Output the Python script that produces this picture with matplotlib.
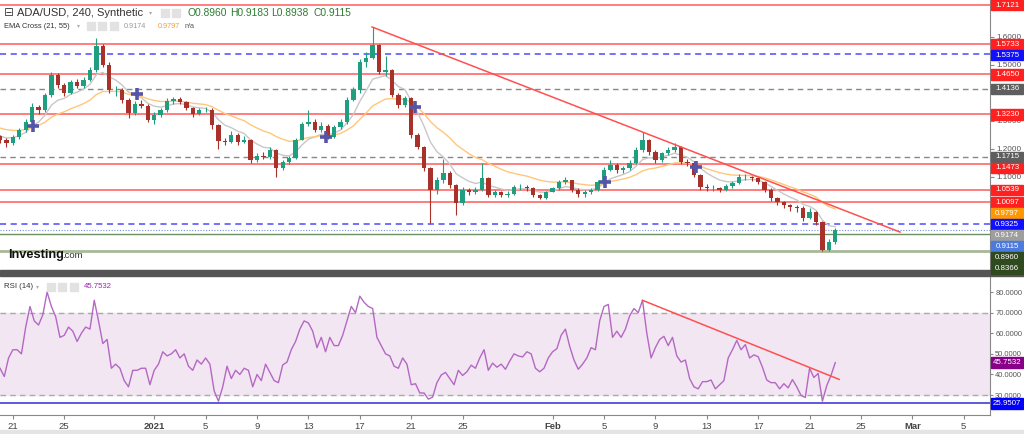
import numpy as np
import pandas as pd
import matplotlib
matplotlib.use('Agg')
import matplotlib.pyplot as plt
import matplotlib.dates as mdates
from matplotlib.patches import Rectangle

plt.rcParams['font.family'] = ['Liberation Sans', 'DejaVu Sans']

# 12h candles, starting 2020-12-20 00:00
first_open = 1.245
close = [1.232, 1.220, 1.242, 1.267, 1.296, 1.349, 1.338, 1.392, 1.463, 1.427,
         1.399, 1.438, 1.424, 1.445, 1.481, 1.566, 1.498, 1.410, 1.410, 1.374,
         1.328, 1.360, 1.353, 1.303, 1.321, 1.338, 1.370, 1.377, 1.367, 1.345,
         1.324, 1.338, 1.338, 1.285, 1.228, 1.225, 1.249, 1.225, 1.232, 1.160,
         1.175, 1.171, 1.196, 1.132, 1.153, 1.167, 1.232, 1.289, 1.296, 1.267,
         1.281, 1.242, 1.278, 1.296, 1.374, 1.410, 1.509, 1.523, 1.570, 1.474,
         1.481, 1.392, 1.356, 1.381, 1.249, 1.207, 1.132, 1.054, 1.089, 1.114,
         1.071, 1.007, 1.054, 1.047, 1.054, 1.096, 1.036, 1.047, 1.036, 1.039,
         1.064, 1.064, 1.061, 1.036, 1.025, 1.047, 1.061, 1.082, 1.089, 1.054,
         1.039, 1.047, 1.054, 1.082, 1.125, 1.143, 1.125, 1.132, 1.150, 1.196,
         1.232, 1.189, 1.160, 1.185, 1.196, 1.207, 1.153, 1.150, 1.107, 1.064,
         1.061, 1.061, 1.054, 1.068, 1.078, 1.100, 1.100, 1.096, 1.082, 1.054,
         1.025, 1.011, 1.000, 0.993, 0.990, 0.954, 0.975, 0.940, 0.840, 0.869,
         0.9115]
high = [1.250, 1.240, 1.250, 1.275, 1.305, 1.365, 1.355, 1.400, 1.475, 1.470,
        1.435, 1.445, 1.450, 1.455, 1.490, 1.595, 1.575, 1.510, 1.425, 1.415,
        1.380, 1.370, 1.375, 1.360, 1.330, 1.345, 1.380, 1.385, 1.385, 1.370,
        1.350, 1.345, 1.350, 1.345, 1.290, 1.240, 1.265, 1.255, 1.245, 1.235,
        1.185, 1.190, 1.205, 1.200, 1.160, 1.175, 1.240, 1.295, 1.340, 1.305,
        1.295, 1.290, 1.285, 1.305, 1.385, 1.420, 1.520, 1.545, 1.635, 1.575,
        1.530, 1.485, 1.400, 1.390, 1.385, 1.255, 1.210, 1.135, 1.100, 1.165,
        1.120, 1.075, 1.065, 1.060, 1.065, 1.150, 1.100, 1.055, 1.050, 1.050,
        1.070, 1.075, 1.070, 1.065, 1.040, 1.050, 1.065, 1.090, 1.100, 1.090,
        1.060, 1.055, 1.060, 1.090, 1.135, 1.160, 1.150, 1.140, 1.160, 1.205,
        1.260, 1.235, 1.195, 1.190, 1.205, 1.220, 1.210, 1.165, 1.155, 1.110,
        1.075, 1.070, 1.065, 1.075, 1.085, 1.110, 1.110, 1.105, 1.100, 1.085,
        1.060, 1.030, 1.015, 1.005, 1.000, 0.995, 0.990, 0.980, 0.945, 0.880,
        0.9183]
low = [1.220, 1.205, 1.215, 1.235, 1.260, 1.290, 1.325, 1.330, 1.385, 1.415,
       1.390, 1.395, 1.415, 1.418, 1.440, 1.475, 1.490, 1.400, 1.390, 1.365,
       1.310, 1.320, 1.345, 1.295, 1.290, 1.315, 1.330, 1.360, 1.360, 1.340,
       1.315, 1.320, 1.330, 1.270, 1.200, 1.215, 1.220, 1.215, 1.220, 1.150,
       1.155, 1.165, 1.165, 1.100, 1.125, 1.145, 1.165, 1.230, 1.280, 1.260,
       1.260, 1.235, 1.240, 1.270, 1.290, 1.370, 1.400, 1.490, 1.520, 1.465,
       1.460, 1.385, 1.345, 1.350, 1.240, 1.200, 1.120, 0.935, 1.040, 1.080,
       1.060, 0.965, 1.000, 1.035, 1.040, 1.050, 1.030, 1.030, 1.030, 1.030,
       1.035, 1.055, 1.050, 1.030, 1.020, 1.020, 1.045, 1.055, 1.075, 1.045,
       1.030, 1.030, 1.040, 1.050, 1.080, 1.120, 1.115, 1.115, 1.125, 1.145,
       1.190, 1.180, 1.150, 1.155, 1.180, 1.190, 1.145, 1.140, 1.100, 1.055,
       1.050, 1.050, 1.045, 1.050, 1.060, 1.075, 1.090, 1.085, 1.075, 1.045,
       1.015, 1.000, 0.990, 0.980, 0.975, 0.945, 0.950, 0.930, 0.836, 0.836,
       0.860]
# EMA values already on the chart at its left edge
ema21_start = 1.250
ema55_start = 1.279

# RSI(14), 8h samples from 2020-12-20 00:00
rsi = [43, 39, 48, 52, 52, 50, 63, 73, 66, 64, 69, 80, 73, 68, 58, 59, 63, 61, 56, 60,
       63, 62, 76, 66, 55, 57, 43, 45, 43, 37, 34, 42, 42, 43, 43, 35, 42, 45, 51, 49,
       50, 52, 48, 50, 44, 42, 47, 45, 48, 45, 32, 27, 34, 44, 38, 42, 40, 43, 42, 34,
       40, 37, 45, 41, 37, 36, 44.6, 46, 52, 56, 62, 66, 65, 61, 53, 58, 51, 58, 54, 54,
       59, 66, 73, 70, 78, 75, 73, 72, 58, 54, 50, 49, 44, 43, 48, 45, 35, 35.5, 31, 31,
       28, 29, 36, 39.7, 41, 38, 35, 42, 39.5, 41.3, 44.5, 43, 48, 52, 42, 45.5, 43.5, 45, 42.5, 46.5,
       50, 49, 48.5, 51, 50, 43, 41.3, 43, 48, 51, 52.5, 59, 62, 53.6, 47, 42.5, 45, 48, 53, 52,
       66, 73, 74, 58, 61, 58, 62, 68.5, 72, 70, 76, 60, 48, 53, 57, 58.5, 54, 58, 49, 46,
       47, 38, 34, 33, 36.5, 36.5, 37.3, 33, 35, 37, 48, 52, 56.5, 52, 54.5, 48, 49.5, 48.6, 43.5, 37.3,
       36, 36, 33, 35.5, 33.5, 37.5, 34, 29.8, 28.8, 43, 38.5, 40.5, 27, 34.5, 39.5, 45.7532]

# horizontal levels drawn on the price chart
red_levels = [1.7121, 1.5733, 1.4650, 1.3230, 1.1473, 1.0539, 1.0097]
blue_levels = [1.5375, 0.9325]
grey_levels = [1.4136, 1.1715]
last_price = 0.9115
green_levels = [0.8960, 0.8366]
ema21_last = 0.9174
ema55_last = 0.9797
rsi_support = 25.9507

# trend lines (day offsets from 2020-12-20, value)
trend_days = [28.95, 70.04]
trend_price = [1.634, 0.904]
rsi_trend_days = [50.0, 65.3]
rsi_trend_vals = [76, 37.6]

# EMA cross markers
cross_days = [2.57, 10.7, 25.4, 32.3, 47.1, 54.2]
cross_price = [1.281, 1.395, 1.242, 1.349, 1.082, 1.136]

price_ticks = [1.1, 1.2, 1.3, 1.4, 1.5, 1.6]
rsi_ticks = [30, 40, 50, 60, 70, 80]
tick_days = ['2020-12-21', '2020-12-25', '2021-01-01', '2021-01-05', '2021-01-09',
             '2021-01-13', '2021-01-17', '2021-01-21', '2021-01-25', '2021-02-01',
             '2021-02-05', '2021-02-09', '2021-02-13', '2021-02-17', '2021-02-21',
             '2021-02-25', '2021-03-01', '2021-03-05']
tick_labels = ['21', '25', '2021', '5', '9', '13', '17', '21', '25', 'Feb',
               '5', '9', '13', '17', '21', '25', 'Mar', '5']

W, H = 1024, 434
fig = plt.figure(figsize=(W / 100, H / 100), dpi=100)
fig.patch.set_facecolor('white')
ax = fig.add_axes([0, 1 - 270 / H, 990 / W, 270 / H])
axr = fig.add_axes([0, 19 / H, 990 / W, 139 / H])

start = pd.Timestamp('2020-12-20')
t_price = mdates.date2num(start + pd.to_timedelta(np.arange(len(close)) * 12, unit='h'))
t_rsi = mdates.date2num(start + pd.to_timedelta(np.arange(len(rsi)) * 8, unit='h'))
d0 = mdates.date2num(start)

xlim = (d0, d0 + 77.04)
for a in (ax, axr):
    a.set_xlim(*xlim)
    for s in ('left', 'top'):
        a.spines[s].set_visible(False)
    a.spines['right'].set_color('#888888')
    a.yaxis.tick_right()
    a.tick_params(axis='y', labelsize=5.9, labelcolor='#555555', color='#888888', length=3, pad=1.5)
axr.tick_params(axis='y', labelsize=5.4, length=2.5, pad=1.2)
ax.spines['bottom'].set_visible(False)
ax.set_xticks([])
ax.set_ylim(0.769, 1.7299)
axr.set_ylim(20.3, 87.8)

# candles
close_a = np.array(close)
open_a = np.r_[first_open, close_a[:-1]]
up = close_a >= open_a
cols = np.where(up, '#1f9e80', '#a8322a')
ax.vlines(t_price, low, high, colors=cols, lw=0.8, zorder=3)
ax.bar(t_price, close_a - open_a, bottom=open_a, width=0.34, color=cols, zorder=4, linewidth=0)


def ema(values, bars, seed):
    # EMA 21 / 55 on 4h bars -> 7 / 18.3 bars on 12h
    k = 2 / (bars + 1)
    out, e = [], seed
    for v in values:
        e = k * v + (1 - k) * e
        out.append(e)
    return out


ax.plot(t_price, ema(close, 7, ema21_start), color='#c8c8c8', lw=1, zorder=2)
ax.plot(t_price, ema(close, 18.3, ema55_start), color='#ffc77a', lw=1, zorder=2)
ax.plot(d0 + np.array(cross_days), cross_price, '+', color='#5555a8', ms=8, mew=2.6, zorder=5)

for v in red_levels:
    ax.axhline(v, color='#ff5a5a', lw=1.1, zorder=1)
for v in blue_levels:
    ax.axhline(v, color='#4a4aff', lw=1.1, ls=(0, (4, 3)), zorder=1)
for v in grey_levels:
    ax.axhline(v, color='#888888', lw=1.0, ls=(0, (4, 3)), zorder=1)
ax.axhline(last_price, color='#7090e0', lw=0.8, ls=(0, (1, 1.5)), zorder=1)
ax.axhline(green_levels[0], color='#6e9060', lw=1.0, zorder=1)
ax.axhline(green_levels[1], color='#a8b898', lw=2.0, zorder=1)
ax.plot(d0 + np.array(trend_days), trend_price, color='#ff5050', lw=1.1, zorder=5)

ax.set_yticks(price_ticks)
ax.yaxis.set_major_formatter(plt.FormatStrFormatter('%.4f'))

# RSI panel
axr.axhspan(30, 70, color='#f2e6f2', zorder=0)
for v in (30, 70):
    axr.axhline(v, color='#aaaaaa', lw=1, ls=(0, (4, 3)), zorder=1)
axr.axhline(rsi_support, color='#4040d8', lw=1.2, zorder=1)
axr.plot(t_rsi, rsi, color='#b468c4', lw=1, zorder=3)
axr.plot(d0 + np.array(rsi_trend_days), rsi_trend_vals, color='#ff5050', lw=1.1, zorder=4)
axr.set_yticks(rsi_ticks)
axr.yaxis.set_major_formatter(plt.FormatStrFormatter('%.4f'))
axr.spines['bottom'].set_color('#888888')
axr.set_xticks(mdates.date2num(pd.to_datetime(tick_days)))
axr.set_xticklabels(tick_labels)
axr.tick_params(axis='x', labelsize=6.8, labelcolor='#444444', color='#888888', length=3, pad=2)
for lbl in axr.get_xticklabels():
    if lbl.get_text() in ('2021', 'Feb', 'Mar'):
        lbl.set_fontweight('bold')


def tag(ytop, text, color, h=10.5):
    # price tag box on the right axis, ytop in pixels from the top
    fig.add_artist(Rectangle((991 / W, 1 - (ytop + h / 2) / H), 32 / W, h / H,
                             transform=fig.transFigure, color=color, zorder=10))
    fig.text(1007 / W, 1 - ytop / H, text, fontsize=5.7, color='white',
             ha='center', va='center', zorder=11)


def place_tags(a, items, gap=11):
    items = sorted(items, key=lambda it: -it[0])
    prev = -100
    for v, txt, col in items:
        y = H - a.transData.transform((xlim[0], v))[1]
        y = max(y, prev + gap)
        tag(y, txt, col)
        prev = y


main_tags = [(v, '%.4f' % v, '#ff2020') for v in red_levels]
main_tags += [(v, '%.4f' % v, '#1010ff') for v in blue_levels]
main_tags += [(v, '%.4f' % v, '#5e5e5e') for v in grey_levels]
main_tags += [(ema55_last, '%.4f' % ema55_last, '#ff9800'),
              (ema21_last, '%.4f' % ema21_last, '#9e9e9e'),
              (last_price, '%.4f' % last_price, '#4c7be0')]
main_tags += [(v, '%.4f' % v, '#2e4a1e') for v in green_levels]
place_tags(ax, main_tags)
place_tags(axr, [(rsi[-1], '%.4f' % rsi[-1], '#880088'),
                 (rsi_support, '%.4f' % rsi_support, '#0000ff')])

# separator and bottom strip
fig.add_artist(Rectangle((0, 1 - 276 / H), 1, 6 / H, transform=fig.transFigure,
                         color='#555555', zorder=9))
fig.add_artist(Rectangle((0, 0), 1, 4 / H, transform=fig.transFigure,
                         color='#e4e4e4', zorder=9))


def icon(x, y, w=8, h=8):
    fig.add_artist(Rectangle((x / W, 1 - (y + h / 2) / H), w / W, h / H,
                             transform=fig.transFigure, color='#e2e2e2', zorder=10))


# header texts
fig.text(4 / W, 1 - 13 / H, '⊟', fontsize=8.5, color='#444444', va='center',
         family=['DejaVu Sans'])
fig.text(17 / W, 1 - 13 / H, 'ADA/USD, 240, Synthetic', fontsize=8.0, color='#333333', va='center')
fig.text(149 / W, 1 - 13 / H, '▾', fontsize=4.5, color='#aaaaaa', va='center',
         family=['DejaVu Sans'])
icon(161, 13)
icon(172, 13)
for x, s in zip([187, 230, 271, 313], ['O0.8960', 'H0.9183', 'L0.8938', 'C0.9115']):
    fig.text(x / W, 1 - 13 / H, s, fontsize=7.4, color='#2e7d32', va='center')
fig.text(4 / W, 1 - 26 / H, 'EMA Cross (21, 55)', fontsize=5.4, color='#333333', va='center')
fig.text(77 / W, 1 - 26 / H, '▾', fontsize=4.2, color='#aaaaaa', va='center',
         family=['DejaVu Sans'])
icon(87, 26)
icon(98, 26)
icon(110, 26)
fig.text(124 / W, 1 - 26 / H, '%.4f' % ema21_last, fontsize=5.2, color='#999999', va='center')
fig.text(158 / W, 1 - 26 / H, '%.4f' % ema55_last, fontsize=5.2, color='#f0a030', va='center')
fig.text(185 / W, 1 - 26 / H, 'n/a', fontsize=5.2, color='#555555', va='center')

fig.text(4 / W, 1 - 287 / H, 'RSI (14)', fontsize=5.6, color='#333333', va='center')
fig.text(36 / W, 1 - 287 / H, '▾', fontsize=4.2, color='#aaaaaa', va='center',
         family=['DejaVu Sans'])
icon(47, 287)
icon(58, 287)
icon(70, 287)
fig.text(84 / W, 1 - 287 / H, '%.4f' % rsi[-1], fontsize=5.6, color='#9c27b0', va='center')

fig.text(8 / W, 1 - 255 / H, 'Investing', fontsize=9.2, fontweight='bold', color='#111111',
         va='center')
fig.text(62 / W, 1 - 256 / H, '.com', fontsize=6.8, color='#333333', va='center')

fig.savefig('out.png', dpi=100)
